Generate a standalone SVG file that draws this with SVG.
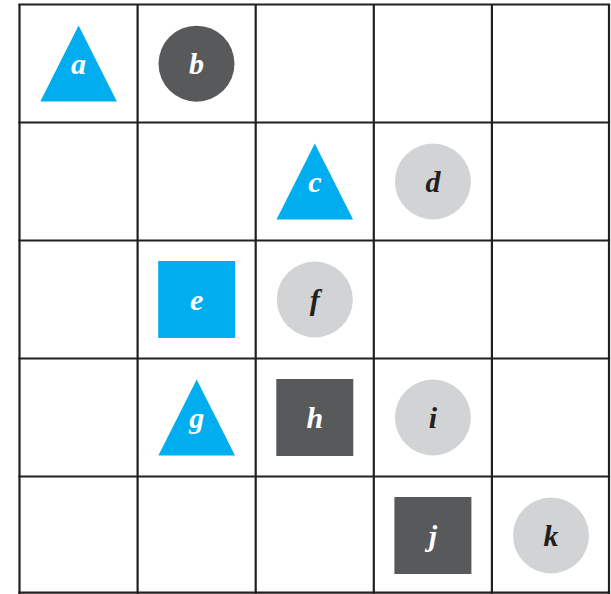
<svg xmlns="http://www.w3.org/2000/svg" width="611" height="594" viewBox="0 0 611 594">
<style>
.grid line{stroke:#231f20;stroke-width:2.2}
.blue{fill:#00aeef}
.dark{fill:#58595b}
.light{fill:#d1d3d4}
text{font-family:"Liberation Serif","Times New Roman",serif;font-weight:bold;font-style:italic;font-size:30px;text-anchor:middle}
.w{fill:#ffffff}
.k{fill:#231f20}
</style>
<rect width="611" height="594" fill="#ffffff"/>
<g class="grid" id="grid">
<line x1="19.5" y1="4.5" x2="19.5" y2="594"/>
<line x1="137.6" y1="4.5" x2="137.6" y2="594"/>
<line x1="255.7" y1="4.5" x2="255.7" y2="594"/>
<line x1="373.8" y1="4.5" x2="373.8" y2="594"/>
<line x1="491.9" y1="4.5" x2="491.9" y2="594"/>
<line x1="609" y1="4.5" x2="609" y2="594"/>
<line x1="18.4" y1="4.5" x2="610.1" y2="4.5"/>
<line x1="18.4" y1="122.5" x2="610.1" y2="122.5"/>
<line x1="18.4" y1="240.5" x2="610.1" y2="240.5"/>
<line x1="18.4" y1="358.5" x2="610.1" y2="358.5"/>
<line x1="18.4" y1="476.5" x2="610.1" y2="476.5"/>
<line x1="18.4" y1="592.6" x2="610.1" y2="592.6"/>
</g>
<g id="a"><polygon class="blue" points="78.6,25.5 40.3,101.5 116.9,101.5"/><text class="w" x="78.6" y="74">a</text></g>
<g id="b"><circle class="dark" cx="196.5" cy="63.7" r="38"/><text class="w" x="196.5" y="73.5">b</text></g>
<g id="c"><polygon class="blue" points="314.8,143.5 276.5,219.5 353.1,219.5"/><text class="w" x="314.8" y="191.5">c</text></g>
<g id="d"><circle class="light" cx="432.9" cy="181.5" r="38"/><text class="k" x="432.9" y="191.5">d</text></g>
<g id="e"><rect class="blue" x="158.2" y="261" width="77" height="77"/><text class="w" x="196.7" y="309.5">e</text></g>
<g id="f"><circle class="light" cx="314.8" cy="299.5" r="38"/><text class="k" x="314.8" y="309.5">f</text></g>
<g id="g"><polygon class="blue" points="196.7,379.5 158.4,455.5 235,455.5"/><text class="w" x="196.7" y="427.5">g</text></g>
<g id="h"><rect class="dark" x="276.3" y="379" width="77" height="77"/><text class="w" x="314.8" y="427.5">h</text></g>
<g id="i"><circle class="light" cx="432.9" cy="417.5" r="38"/><text class="k" x="432.9" y="427.5">i</text></g>
<g id="j"><rect class="dark" x="394.4" y="497" width="77" height="77"/><text class="w" x="432.9" y="545.5">j</text></g>
<g id="k"><circle class="light" cx="551" cy="535.5" r="38"/><text class="k" x="551" y="545.5">k</text></g>
</svg>
